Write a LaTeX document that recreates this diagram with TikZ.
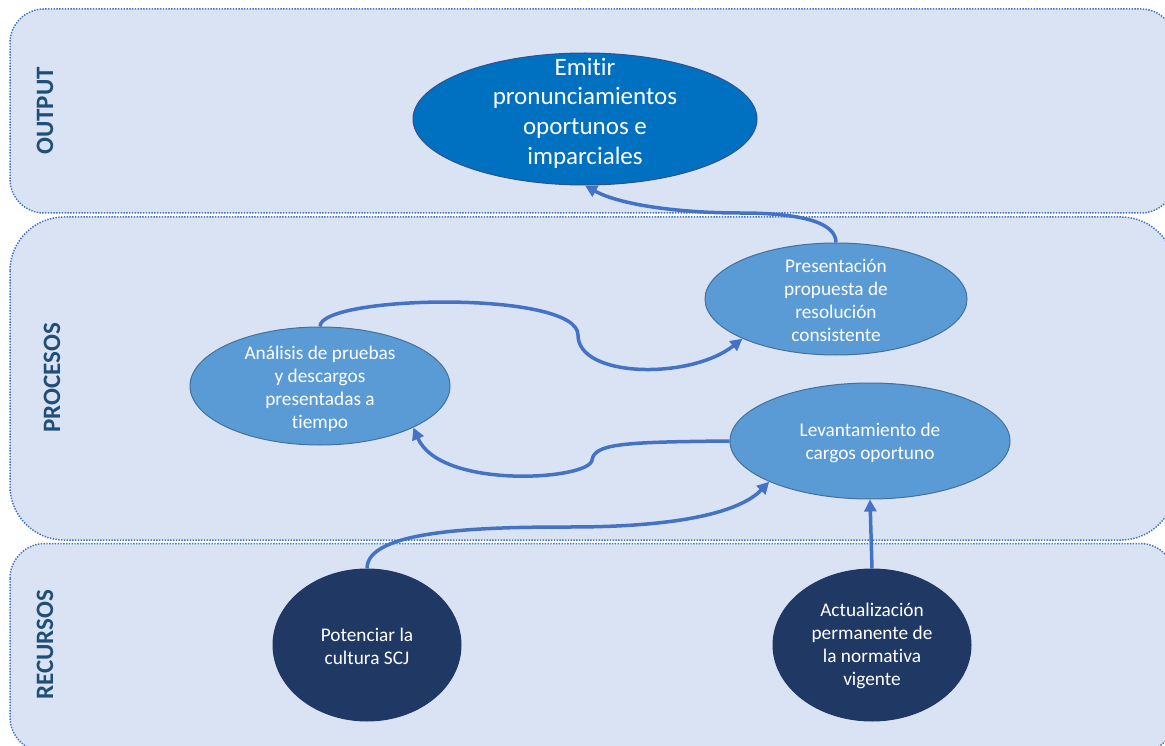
\documentclass[tikz,border=0pt]{standalone}
\usepackage{fontspec}
\setmainfont{Carlito}[Ligatures={NoCommon}]
\usetikzlibrary{shapes.geometric,arrows.meta}
\definecolor{bandfill}{HTML}{DAE3F3}
\definecolor{bandline}{HTML}{4472C4}
\definecolor{lblcol}{HTML}{1F4E79}
\definecolor{outfill}{HTML}{0070C0}
\definecolor{procfill}{HTML}{5B9BD5}
\definecolor{resfill}{HTML}{203864}
\definecolor{edgecol}{HTML}{41719C}
\definecolor{outedge}{HTML}{2F528F}
\definecolor{conncol}{HTML}{4472C4}
\begin{document}
\begin{tikzpicture}[x=1pt,y=-1pt,
  band/.style={fill=bandfill, draw=bandline, line width=1.5pt, dash pattern=on 1.4pt off 1.4pt},
  bandlabel/.style={rotate=90, text=lblcol, font=\fontsize{25}{30}\selectfont\bfseries},
  ell/.style={ellipse, draw=edgecol, line width=1pt, inner sep=0pt},
  outell/.style={ell, fill=outfill, draw=outedge},
  procell/.style={ell, fill=procfill},
  resell/.style={ell, fill=resfill, draw=resfill},
  bigtxt/.style={text=white, align=center, font=\fontsize{25}{29.7}\selectfont},
  txt/.style={text=white, align=center, font=\fontsize{19.3}{23}\selectfont},
  connector/.style={draw=conncol, line width=3.5pt, -{Triangle[length=12pt,width=12pt]}}
]
\useasboundingbox (0,0) rectangle (1165,746);
\fill[white] (0,0) rectangle (1165,746);
\clip (0,0) rectangle (1165,746);

% bands
\draw[band, rounded corners=34pt] (10,9) rectangle (1175,213);
\draw[band, rounded corners=54pt] (10,217) rectangle (1175,540);
\draw[band, rounded corners=35pt] (10,543.5) rectangle (1175,752);

\node[bandlabel] (lo) at (45,111) {OUTPUT};
\node[bandlabel] (lp) at (52,378) {PROCESOS};
\node[bandlabel] (lr) at (45,645) {RECURSOS};

% ellipses
\node[outell, minimum width=344pt, minimum height=132pt] (emit) at (585,119) {};
\node[procell, minimum width=262pt, minimum height=112pt] (pres) at (836,299) {};
\node[procell, minimum width=260pt, minimum height=118pt] (anal) at (320,386) {};
\node[procell, minimum width=280pt, minimum height=116pt] (lev) at (870,441) {};
\node[resell, minimum width=188pt, minimum height=152pt] (pot) at (367,645) {};
\node[resell, minimum width=198pt, minimum height=152pt] (act) at (872,645) {};

% texts
\node[bigtxt] (emitT) at (585,113) {Emitir\\pronunciamientos\\oportunos e\\imparciales};
\node[txt] (presT) at (836,300) {Presentación\\propuesta de\\resolución\\consistente};
\node[txt] (analT) at (320,389) {Análisis de pruebas\\y descargos\\presentadas a\\tiempo};
\node[txt] (levT) at (870,443) {Levantamiento de\\cargos oportuno};
\node[txt] (potT) at (367,646) {Potenciar la\\cultura SCJ};
\node[txt] (actT) at (872,646) {Actualización\\permanente de\\la normativa\\vigente};

% connectors
\draw[connector] (pres.north) .. controls (836,222) and (800,213) .. (740,213)
   .. controls (680,213) and (620,205) .. (emit.south);
\draw[connector] (anal.north) .. controls (320,295) and (578,290) .. (578,335)
   .. controls (578,378) and (690,380) .. (pres.203);
\draw[connector] (lev.west) .. controls (620,442) and (595,444) .. (592,460)
   .. controls (590,480) and (440,490) .. (anal.-24);
\draw[connector] (pot.north) .. controls (367,530) and (480,527) .. (570,527)
   .. controls (680,527) and (740,512) .. (lev.202.5);
\draw[connector] (act.north) -- (lev.south);
\end{tikzpicture}
\end{document}
